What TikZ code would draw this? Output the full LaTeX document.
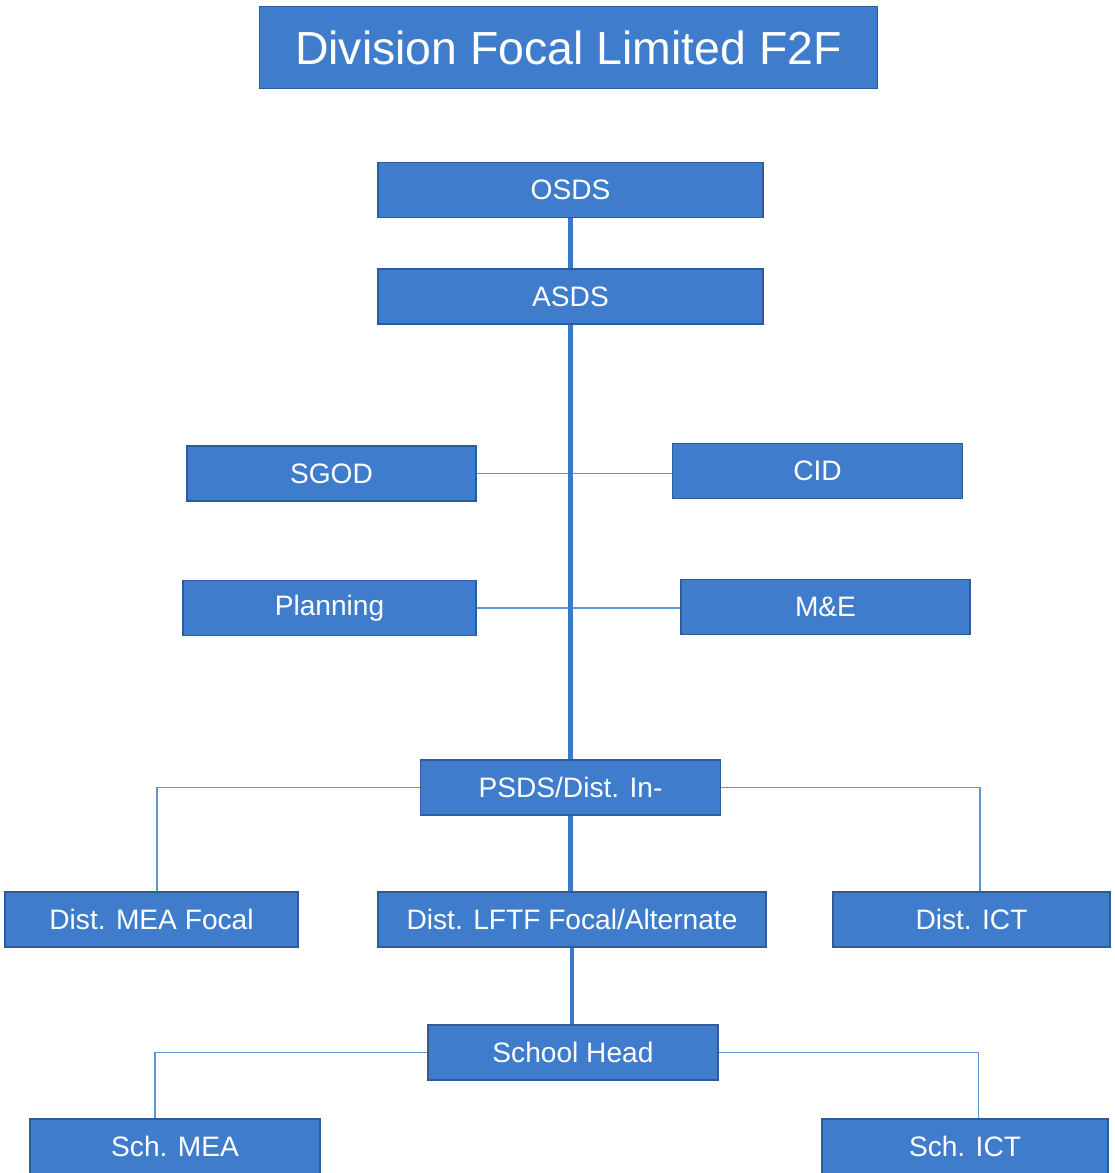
\documentclass[tikz,border=0pt]{standalone}
\usepackage{fontspec}
\setmainfont{Liberation Sans}
\usepackage{tikz}
\usetikzlibrary{positioning}
\definecolor{unit-blue}{HTML}{3F7DCC}
\definecolor{unit-edge}{HTML}{2D5C9C}
\definecolor{trunk-blue}{HTML}{3B78C8}
\definecolor{branch-blue}{HTML}{5E95D4}

\begin{document}
\begin{tikzpicture}[x=0.025cm, y=-0.025cm]

    % page
    \useasboundingbox (0,0) rectangle (1114,1173);

    % heading
    \node[draw=unit-edge, fill=unit-blue, line width=1pt, text=white,
          minimum width=15.45cm, minimum height=2.05cm,
          font=\fontsize{33}{40}\selectfont] (title) at (568.5,47.5) {Division Focal Limited F2F};

    % offices
    \begin{scope}[every node/.style={draw=unit-edge, fill=unit-blue, line width=1pt,
                  text=white, minimum height=1.375cm, inner sep=0pt,
                  font=\fontsize{20}{24}\selectfont}]
        \node[minimum width=9.62cm] (osds) at (570.5,190) {OSDS};
        \node[minimum width=9.62cm] (asds) at (570.5,296.5) {ASDS};
        \node[minimum width=7.22cm] (sgod) at (331.5,473.5) {SGOD};
        \node[minimum width=7.25cm] (cid) at (817.5,471) {CID};
        \node[minimum width=7.32cm] (planning) at (329.5,608) {Planning};
        \node[minimum width=7.22cm] (me) at (825.5,607) {M\&E};
        \node[minimum width=7.5cm] (psds) at (570.5,787.5) {PSDS/Dist. In-};
        \node[minimum width=7.32cm] (distmea) at (151.5,919.5) {Dist. MEA Focal};
        \node[minimum width=9.7cm] (lftf) at (572,919.5) {Dist. LFTF Focal/Alternate};
        \node[minimum width=6.92cm] (distict) at (971.5,919.5) {Dist. ICT};
        \node[minimum width=7.25cm] (head) at (573,1052.5) {School Head};
        \node[minimum width=7.25cm] (schmea) at (175,1146.5) {Sch. MEA};
        \node[minimum width=7.15cm] (schict) at (965,1146.5) {Sch. ICT};
    \end{scope}

    % side lines
    \begin{scope}[draw=branch-blue, line width=1pt]
        \draw (sgod.east) -- (sgod.east -| cid.west);
        \draw (planning.east) -- (planning.east -| me.west);
        \draw (psds.west) -| ([xshift=0.14cm]distmea.north);
        \draw (psds.east) -| ([xshift=0.21cm]distict.north);
        \draw (head.west) -| ([xshift=-0.5cm]schmea.north);
        \draw (head.east) -| ([xshift=0.33cm]schict.north);
    \end{scope}

    % main line
    \begin{scope}[draw=trunk-blue, line width=3.5pt]
        \draw (osds) -- (asds);
        \draw (asds.south) -- (asds.south |- psds.north);
        \draw (psds.south) -- (psds.south |- lftf.north);
        \draw (lftf.south) -- (lftf.south |- head.north);
    \end{scope}

\end{tikzpicture}
\end{document}
